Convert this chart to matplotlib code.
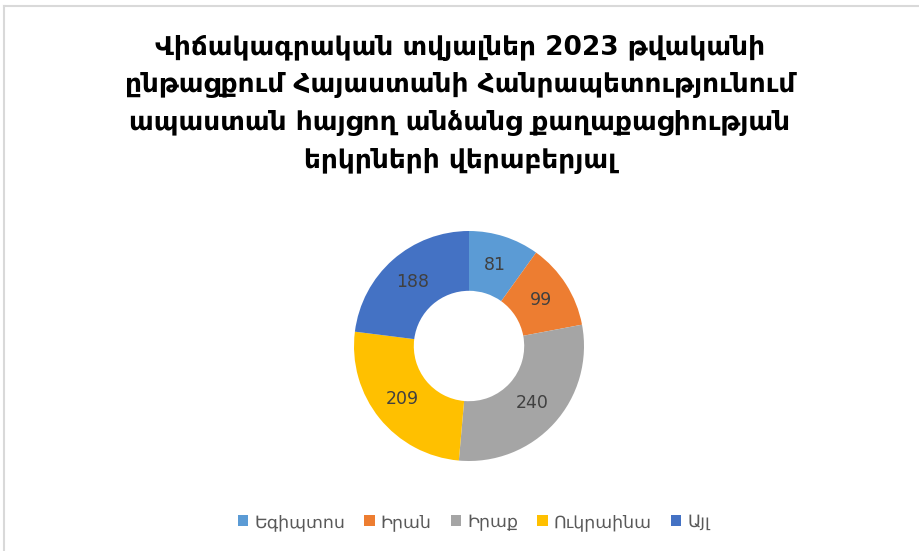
import matplotlib
matplotlib.use('Agg')
import numpy as np
import matplotlib.pyplot as plt
from matplotlib.lines import Line2D

title = ('Վիճակագրական տվյալներ 2023 թվականի\n'
         'ընթացքում Հայաստանի Հանրապետությունում\n'
         'ապաստան հայցող անձանց քաղաքացիության\n'
         'երկրների վերաբերյալ')
countries = ['Եգիպտոս', 'Իրան', 'Իրաք', 'Ուկրաինա', 'Այլ']
counts = [81, 99, 240, 209, 188]
colors = ['#5B9BD5', '#ED7D31', '#A5A5A5', '#FFC000', '#4472C4']

W, H = 919, 551
fig = plt.figure(figsize=(W / 100, H / 100), dpi=100)

# frame (only top and left edges are visible in the crop)
fig.add_artist(Line2D([4 / W, 1], [1 - 5.5 / H, 1 - 5.5 / H],
                      color='#D9D9D9', lw=1.5, transform=fig.transFigure))
fig.add_artist(Line2D([4 / W, 4 / W], [0, 1 - 5.5 / H],
                      color='#D9D9D9', lw=1.5, transform=fig.transFigure))

fig.text(460 / W, 1 - 104 / H, title, ha='center', va='center',
         fontsize=19, fontweight='bold', linespacing=1.58,
         family=['DejaVu Sans'])

cx, cy, r = 469, 346, 115
ax = fig.add_axes([(cx - r) / W, (H - cy - r) / H, 2 * r / W, 2 * r / H])
wedges, texts = ax.pie(counts, colors=colors, startangle=90, counterclock=False,
                       radius=1, wedgeprops=dict(width=0.52, linewidth=0))
mid = 1 - 0.52 / 2
for w, v in zip(wedges, counts):
    a = np.deg2rad((w.theta1 + w.theta2) / 2)
    ax.text(mid * np.cos(a), mid * np.sin(a), str(v), ha='center',
            va='center', fontsize=12.5, color='#404040')
ax.set_xlim(-1, 1)
ax.set_ylim(-1, 1)
ax.set_aspect('equal')
ax.axis('off')

fig.legend(wedges, countries, loc='center', bbox_to_anchor=(474 / W, 1 - 522 / H),
           ncol=5, frameon=False, fontsize=12.5, handlelength=0.6,
           handleheight=0.6, handletextpad=0.35, columnspacing=1.1,
           labelcolor='#595959')

fig.savefig('out.png', dpi=100)
